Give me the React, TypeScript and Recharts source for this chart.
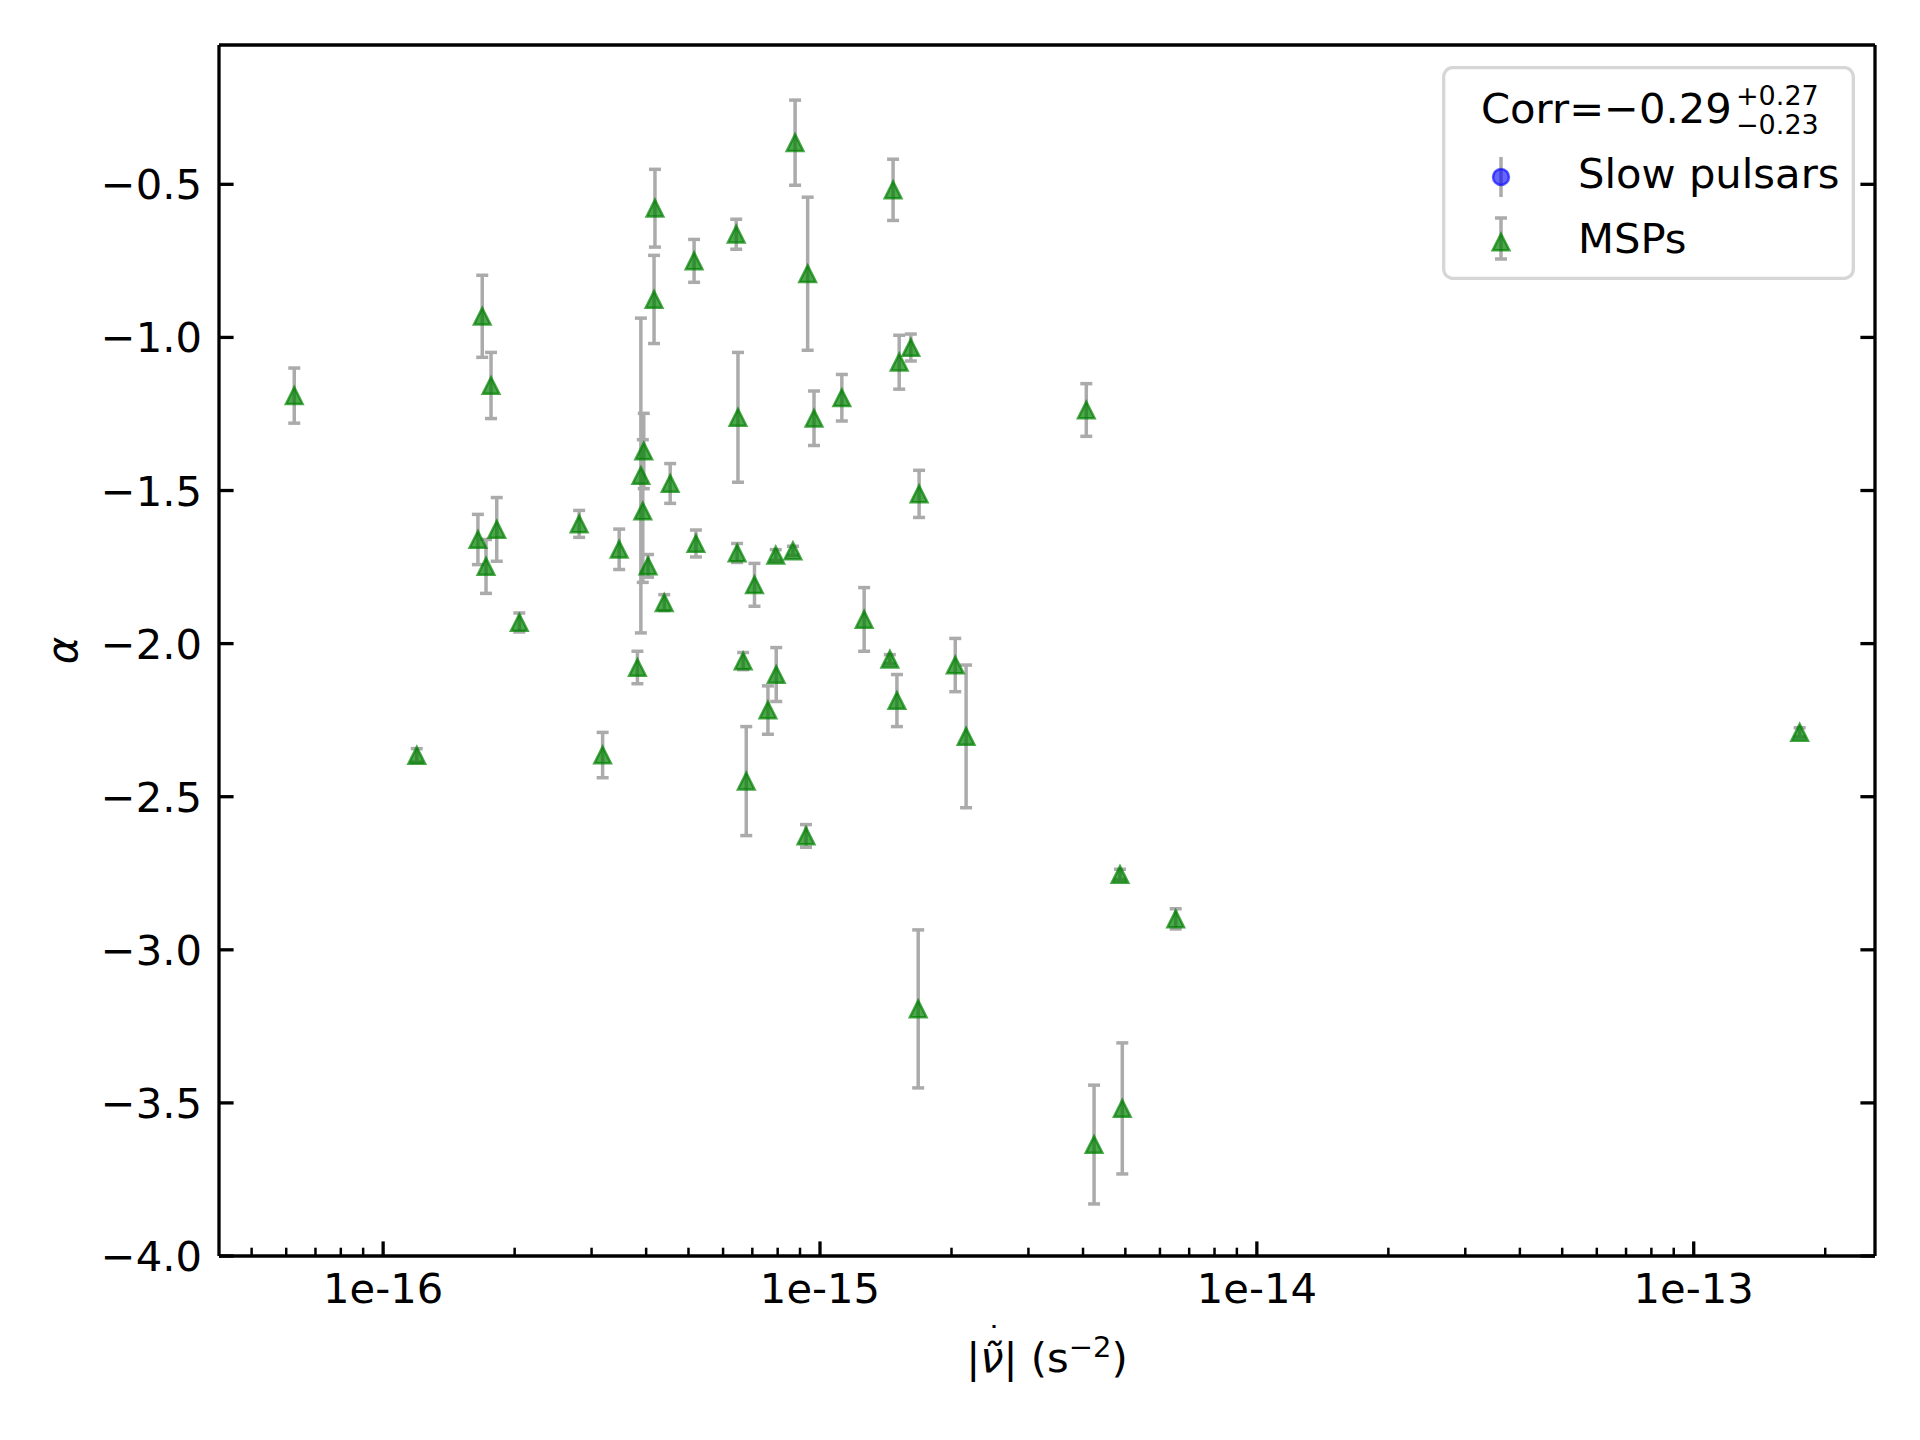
import { ScatterChart, Scatter, XAxis, YAxis, ErrorBar, Legend } from "recharts"

const FONT = "DejaVu Sans, Verdana, sans-serif"
const FS = 41.7

// MSPs: |nu double-dot| (s^-2), spectral index alpha and its error
const mspNuDDot = [
  6.26e-17, 1.194e-16, 1.686e-16, 1.766e-16, 1.648e-16, 1.72e-16, 1.82e-16, 2.05e-16, 2.81e-16,
  3.18e-16, 3.47e-16, 3.82e-16, 3.89e-16, 3.95e-16, 3.93e-16, 4.04e-16, 4.17e-16, 4.19e-16,
  4.4e-16, 4.54e-16, 5.15e-16, 5.2e-16, 6.43e-16, 6.49e-16, 6.46e-16, 6.67e-16, 6.78e-16,
  7.08e-16, 7.6e-16, 7.92e-16, 7.94e-16, 8.67e-16, 8.77e-16, 9.29e-16, 9.37e-16, 9.69e-16,
  1.122e-15, 1.262e-15, 1.445e-15, 1.47e-15, 1.518e-15, 1.5e-15, 1.614e-15, 1.686e-15,
  1.678e-15, 2.04e-15, 2.16e-15, 4.07e-15, 4.24e-15, 4.86e-15, 4.92e-15, 6.52e-15, 1.748e-13,
]
const mspAlpha = [
  -1.19, -2.365, -0.931, -1.157, -1.66, -1.748, -1.627, -1.931, -1.609,
  -2.364, -1.692, -2.078, -1.451, -1.371, -1.567, -1.746, -0.876, -0.578,
  -1.866, -1.477, -0.75, -1.673, -0.663, -1.261, -1.704, -2.057, -2.449,
  -1.808, -2.217, -1.711, -2.101, -1.697, -0.364, -2.628, -0.792, -1.264,
  -1.197, -1.921, -2.051, -0.518, -1.081, -2.186, -1.033, -1.511,
  -3.193, -2.07, -2.303, -1.237, -3.636, -2.754, -3.518, -2.899, -2.29,
]
const mspAlphaErr = [
  0.09, 0.022, 0.134, 0.108, 0.082, 0.088, 0.104, 0.031, 0.044,
  0.074, 0.066, 0.053, 0.514, 0.123, 0.233, 0.037, 0.144, 0.127,
  0.026, 0.065, 0.07, 0.044, 0.049, 0.212, 0.031, 0.028, 0.178,
  0.07, 0.079, 0.018, 0.088, 0.015, 0.139, 0.037, 0.25, 0.089,
  0.076, 0.104, 0.015, 0.1, 0.088, 0.085, 0.044, 0.077,
  0.258, 0.087, 0.233, 0.086, 0.194, 0.017, 0.214, 0.033, 0.015,
]

// no slow pulsars fall in this panel
const slowNuDDot: number[] = []
const slowAlpha: number[] = []
const slowAlphaErr: number[] = []

const xMajorTicks = [1e-16, 1e-15, 1e-14, 1e-13]
const xMinorTicks = [
  5e-17, 6e-17, 7e-17, 8e-17, 9e-17,
  2e-16, 3e-16, 4e-16, 5e-16, 6e-16, 7e-16, 8e-16, 9e-16,
  2e-15, 3e-15, 4e-15, 5e-15, 6e-15, 7e-15, 8e-15, 9e-15,
  2e-14, 3e-14, 4e-14, 5e-14, 6e-14, 7e-14, 8e-14, 9e-14,
  2e-13,
]
const yTicks = [-4.0, -3.5, -3.0, -2.5, -2.0, -1.5, -1.0, -0.5]

const xDomain = [4.21e-17, 2.6e-13]
const yDomain = [-4.0, -0.045]

const corrValue = "\u22120.29"
const corrUp = "+0.27"
const corrDown = "\u22120.23"

const W = 1920
const H = 1440
const PLOT = { left: 219, top: 45, right: 1875, bottom: 1256 }
const MAJOR = 14.6
const MINOR = 8.3

const mspData = mspNuDDot.map((x, i) => ({ x, y: mspAlpha[i], err: mspAlphaErr[i] }))
const slowData = slowNuDDot.map((x, i) => ({ x, y: slowAlpha[i], err: slowAlphaErr[i] }))
const xTicks = [...xMajorTicks, ...xMinorTicks].sort((a, b) => a - b)

const isDecade = (v: number) => Math.abs(Math.log10(v) - Math.round(Math.log10(v))) < 1e-9
const fmtDecade = (v: number) => `1e${Math.round(Math.log10(v))}`
const fmtAlpha = (v: number) => v.toFixed(1).replace("-", "\u2212")

const BottomTick = ({ x, y, payload }: any) => {
  const major = isDecade(payload.value)
  return (
    <g>
      <line x1={x} x2={x} y1={y} y2={y - (major ? MAJOR : MINOR)} stroke="#000" strokeWidth={major ? 3.3 : 2.5} />
      {major && (
        <text x={x} y={y + 47} textAnchor="middle" fontSize={FS} fontFamily={FONT} fill="#000">
          {fmtDecade(payload.value)}
        </text>
      )}
    </g>
  )
}

const TopTick = ({ x, y, payload }: any) => {
  const major = isDecade(payload.value)
  return <line x1={x} x2={x} y1={y} y2={y + (major ? MAJOR : MINOR)} stroke="#000" strokeWidth={major ? 3.3 : 2.5} />
}

const LeftTick = ({ x, y, payload }: any) => (
  <g>
    <line x1={x} x2={x + MAJOR} y1={y} y2={y} stroke="#000" strokeWidth={3.3} />
    <text x={x - 17} y={y + 15} textAnchor="end" fontSize={FS} fontFamily={FONT} fill="#000">
      {fmtAlpha(payload.value)}
    </text>
  </g>
)

const RightTick = ({ x, y }: any) => <line x1={x} x2={x - MAJOR} y1={y} y2={y} stroke="#000" strokeWidth={3.3} />

const Triangle = ({ cx, cy }: any) => {
  const h = 8.3
  return (
    <path
      d={`M${cx},${cy - h}L${cx + h},${cy + h}L${cx - h},${cy + h}Z`}
      fill="#008000"
      fillOpacity={0.7}
      stroke="#008000"
      strokeOpacity={0.7}
      strokeWidth={2.5}
    />
  )
}

const Dot = ({ cx, cy }: any) => (
  <circle cx={cx} cy={cy} r={8} fill="#0000ff" fillOpacity={0.6} stroke="#0000ff" strokeOpacity={0.6} strokeWidth={2.5} />
)

const XLabel = ({ viewBox }: any) => {
  const cx = viewBox ? viewBox.x + viewBox.width / 2 : (PLOT.left + PLOT.right) / 2
  const y = (viewBox ? viewBox.y : PLOT.bottom) + 116
  return (
    <text x={cx} y={y} textAnchor="middle" fontSize={FS} fontFamily={FONT} fill="#000">
      <tspan>|</tspan>
      <tspan fontStyle="italic">ν̃</tspan>
      <tspan dx={-17} dy={-24} fontSize={30}>{"\u02D9"}</tspan>
      <tspan dx={2} dy={24}>|</tspan>
      <tspan> (s</tspan>
      <tspan dy={-15} fontSize={29}>{"\u22122"}</tspan>
      <tspan dy={15}>)</tspan>
    </text>
  )
}

const YLabel = ({ viewBox }: any) => {
  const y = viewBox ? viewBox.y + viewBox.height / 2 : (PLOT.top + PLOT.bottom) / 2
  const x = 77
  return (
    <text x={x} y={y} transform={`rotate(-90, ${x}, ${y})`} textAnchor="middle" fontSize={FS} fontFamily={FONT} fontStyle="italic" fill="#000">
      α
    </text>
  )
}

const LegendBox = () => (
  <svg width={413} height={214} style={{ overflow: "visible", display: "block" }} fontFamily={FONT}>
    <rect x={1.7} y={1.7} width={409.6} height={210.6} rx={9} fill="#fff" fillOpacity={0.8} stroke="#d6d6d6" strokeWidth={3.3} />
    <text x={39} y={57} fontSize={FS} fill="#000">
      Corr={corrValue}
    </text>
    <text x={294} y={39} fontSize={27} fill="#000">
      {corrUp}
    </text>
    <text x={294} y={68} fontSize={27} fill="#000">
      {corrDown}
    </text>

    <line x1={59} x2={59} y1={91} y2={131} stroke="#ababab" strokeWidth={3.5} />
    <circle cx={59} cy={111} r={8} fill="#0000ff" fillOpacity={0.6} stroke="#0000ff" strokeOpacity={0.6} strokeWidth={2.5} />
    <text x={136} y={122} fontSize={FS} fill="#000">
      Slow pulsars
    </text>

    <line x1={59} x2={59} y1={152} y2={193} stroke="#ababab" strokeWidth={3.5} />
    <line x1={53} x2={65} y1={152} y2={152} stroke="#ababab" strokeWidth={3.5} />
    <line x1={53} x2={65} y1={193} y2={193} stroke="#ababab" strokeWidth={3.5} />
    <path d="M59,167.7L67.3,184.3L50.7,184.3Z" fill="#008000" fillOpacity={0.7} stroke="#008000" strokeOpacity={0.7} strokeWidth={2.5} />
    <text x={136} y={187} fontSize={FS} fill="#000">
      MSPs
    </text>
  </svg>
)

export default function App() {
  return (
    <div style={{ position: "absolute", left: 0, top: 0, width: W, height: H, background: "#fff" }}>
      <ScatterChart width={W} height={H} margin={{ top: PLOT.top - 1, right: W - PLOT.right - 1, bottom: 0, left: 0 }}>
        <XAxis
          xAxisId="bottom"
          dataKey="x"
          type="number"
          scale="log"
          domain={xDomain}
          allowDataOverflow
          ticks={xTicks}
          interval={0}
          height={H - PLOT.bottom}
          tickSize={0}
          tickMargin={0}
          tickLine={false}
          tick={<BottomTick />}
          axisLine={{ stroke: "#000", strokeWidth: 3.3 }}
          label={<XLabel />}
        />
        <XAxis
          xAxisId="top"
          orientation="top"
          type="number"
          scale="log"
          domain={xDomain}
          allowDataOverflow
          ticks={xTicks}
          interval={0}
          height={1}
          tickSize={0}
          tickMargin={0}
          tickLine={false}
          tick={<TopTick />}
          axisLine={{ stroke: "#000", strokeWidth: 3.3 }}
        />
        <YAxis
          yAxisId="left"
          dataKey="y"
          type="number"
          domain={yDomain}
          allowDataOverflow
          ticks={yTicks}
          interval={0}
          width={PLOT.left}
          tickSize={0}
          tickMargin={0}
          tickLine={false}
          tick={<LeftTick />}
          axisLine={{ stroke: "#000", strokeWidth: 3.3 }}
          label={<YLabel />}
        />
        <YAxis
          yAxisId="right"
          orientation="right"
          type="number"
          domain={yDomain}
          allowDataOverflow
          ticks={yTicks}
          interval={0}
          width={1}
          tickSize={0}
          tickMargin={0}
          tickLine={false}
          tick={<RightTick />}
          axisLine={{ stroke: "#000", strokeWidth: 3.3 }}
        />
        <Scatter name="Slow pulsars" data={slowData} xAxisId="bottom" yAxisId="left" shape={<Dot />} fill="#0000ff" isAnimationActive={false}>
          <ErrorBar dataKey="err" direction="y" width={0} stroke="#ababab" strokeWidth={3.5} isAnimationActive={false} />
        </Scatter>
        <Scatter name="MSPs" data={mspData} xAxisId="bottom" yAxisId="left" shape={<Triangle />} fill="#008000" isAnimationActive={false}>
          <ErrorBar dataKey="err" direction="y" width={6} stroke="#ababab" strokeWidth={3.5} isAnimationActive={false} />
        </Scatter>
        <Legend
          layout="vertical"
          align="center"
          verticalAlign="middle"
          wrapperStyle={{ left: 1442, top: 66, width: 413, height: 214 }}
          content={() => <LegendBox />}
        />
      </ScatterChart>
    </div>
  )
}
